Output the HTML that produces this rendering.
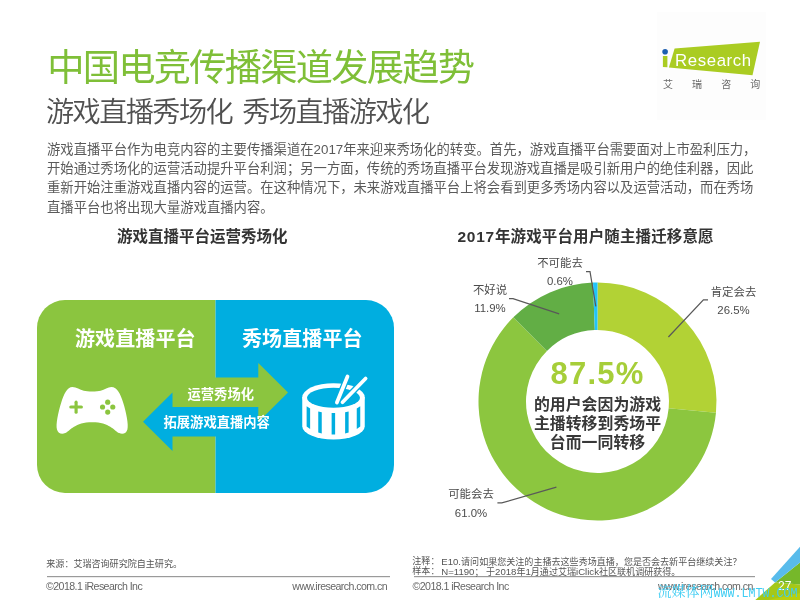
<!DOCTYPE html>
<html lang="zh-CN">
<head>
<meta charset="utf-8">
<title>中国电竞传播渠道发展趋势</title>
<style>
html,body{margin:0;padding:0;background:#fff;}
body{width:800px;height:600px;position:relative;overflow:hidden;
  font-family:"Liberation Sans","Noto Sans CJK SC",sans-serif;color:#555;}
.t{position:absolute;white-space:nowrap;line-height:1;margin:0;padding:0;}
#txt{position:absolute;left:0;top:0;width:800px;height:600px;will-change:transform;}
#gfx{position:absolute;left:0;top:0;width:800px;height:600px;}
.title{left:47.2px;top:50.4px;font-size:37.3px;font-weight:400;color:#7fbf38;letter-spacing:-1.8px;}
.sub{left:46px;top:98px;font-size:28.2px;font-weight:350;color:#505050;letter-spacing:-1.6px;word-spacing:4px;}
.body{left:47px;top:139.8px;font-size:13.33px;line-height:19.3px;color:#5a5a5a;font-weight:400;}
.h3{font-size:15.5px;font-weight:700;color:#333;}
.lab{font-size:11.4px;color:#4c4c4c;text-align:center;line-height:18.8px;}
.foot{font-size:9.05px;color:#555;}
.foot b{font-weight:400;font-size:9.6px;}
.copy{font-size:10.6px;color:#666;letter-spacing:-0.56px;}
</style>
</head>
<body>
<svg id="gfx" viewBox="0 0 800 600" width="800" height="600">
  <!-- logo -->
  <rect x="657" y="12" width="109" height="108" fill="#fdfdfd"/>
  <polygon points="674.6,48.4 760,41.8 752.5,75.2 668.9,67.4" fill="#aacc22"/>
  <polygon points="662.9,56.1 667.4,56.1 667.4,67.3 662.9,66.9" fill="#aacc22"/>
  <circle cx="665.1" cy="51.8" r="2.8" fill="#1d5fb0"/>

  <!-- left diagram -->
  <defs>
    <clipPath id="rr"><rect x="37" y="300" width="357" height="193" rx="28" ry="28"/></clipPath>
  </defs>
  <g clip-path="url(#rr)">
    <rect x="37" y="300" width="178.5" height="193" fill="#8bc53f"/>
    <rect x="215.5" y="300" width="178.5" height="193" fill="#00aee0"/>
  </g>
  <!-- green arrow -->
  <polygon points="215,377.5 258.3,377.5 258.3,363 288,392.5 258.3,422 258.3,407 215,407" fill="#8bc53f"/>
  <!-- blue arrow -->
  <polygon points="216,407 172.5,407 172.5,392.5 143,421.7 172.5,451 172.5,436.5 216,436.5" fill="#00aee0"/>

  <!-- gamepad -->
  <g transform="translate(50,380) scale(0.1125)">
    <path d="M200,62 C235,62 265,88 300,96 C330,104 420,104 450,96 C485,88 515,62 545,62 C598,62 628,128 650,200 C678,290 700,395 688,440 C680,472 648,488 615,472 C570,450 530,375 375,375 C220,375 180,450 135,472 C102,488 70,472 62,440 C50,395 72,290 100,200 C122,128 152,62 200,62 Z" fill="#fff"/>
    <g stroke="#8bc53f" stroke-width="28" stroke-linecap="round">
      <line x1="185" y1="240" x2="279" y2="240"/>
      <line x1="232" y1="197" x2="232" y2="286"/>
    </g>
    <g fill="#8bc53f">
      <circle cx="513" cy="197" r="23"/><circle cx="467" cy="240" r="23"/>
      <circle cx="558" cy="240" r="23"/><circle cx="513" cy="285" r="23"/>
    </g>
  </g>

  <!-- drum -->
  <g transform="translate(290,365) scale(0.125)">
    <path d="M98,258 L98,490 A250,105 0 0 0 598,490 L598,258 Z" fill="#fff"/>
    <ellipse cx="348" cy="258" rx="250" ry="112" fill="#fff"/>
    <ellipse cx="348" cy="262" rx="212" ry="80" fill="#00aee0"/>
    <g fill="#00aee0">
      <polygon points="133,330 161,348 161,512 133,492"/>
      <polygon points="226,372 254,378 254,548 226,540"/>
      <polygon points="333,384 361,384 361,556 333,556"/>
      <polygon points="441,378 469,372 469,540 441,548"/>
      <polygon points="534,348 562,330 562,492 534,512"/>
    </g>
    <g stroke="#00aee0" stroke-width="50" stroke-linecap="round">
      <line x1="375" y1="300" x2="460" y2="92"/>
      <line x1="420" y1="298" x2="605" y2="108"/>
    </g>
    <g stroke="#fff" stroke-width="30" stroke-linecap="round">
      <line x1="375" y1="300" x2="460" y2="92"/>
      <line x1="420" y1="298" x2="605" y2="108"/>
    </g>
  </g>

  <!-- donut -->
  <g id="donut">
    <path d="M597.50,282.50 A119,119 0 0 1 715.97,412.70 L668.68,408.23 A71.5,71.5 0 0 0 597.50,330.00 Z" fill="#b2d235"/>
    <path d="M715.97,412.70 A119,119 0 1 1 513.35,317.35 L546.94,350.94 A71.5,71.5 0 1 0 668.68,408.23 Z" fill="#8cc63f"/>
    <path d="M513.35,317.35 A119,119 0 0 1 593.01,282.58 L594.81,330.05 A71.5,71.5 0 0 0 546.94,350.94 Z" fill="#62ae45"/>
    <path d="M593.01,282.58 A119,119 0 0 1 597.50,282.50 L597.50,330.00 A71.5,71.5 0 0 0 594.81,330.05 Z" fill="#22c4f8"/>
  </g>

  <!-- leader lines -->
  <g fill="none" stroke="#595959" stroke-width="1.25">
    <polyline points="586,271.5 590,271.5 595.8,306.3"/>
    <polyline points="509,298.6 513,298.6 559.2,313.8"/>
    <polyline points="708,299.8 703.4,299.8 668.4,337"/>
    <polyline points="497.4,502.9 501.8,502.9 556.4,487.1"/>
  </g>

  <!-- footer lines -->
  <rect x="47" y="576" width="343" height="1.2" fill="#9a9a9a"/>
  <rect x="414" y="576" width="341" height="1.2" fill="#9a9a9a"/>

  <!-- corner -->
  <polygon points="755.3,600 775.1,582.6 800,584.5 800,600" fill="#a5c818"/>
  <polygon points="768,600 800,593 800,600" fill="#b9d00e"/>
  <polygon points="775.1,582.6 800,562.4 800,584.5" fill="#76b82a"/>
  <polygon points="771,578.9 800,546.8 800,562.4 775.1,582.6" fill="#58bbeb"/>
</svg>

<div id="txt">
<div class="t title">中国电竞传播渠道发展趋势</div>
<div class="t sub">游戏直播秀场化 秀场直播游戏化</div>
<div class="t body">游戏直播平台作为电竞内容的主要传播渠道在2017年来迎来秀场化的转变。首先，游戏直播平台需要面对上市盈利压力，<br>开始通过秀场化的运营活动提升平台利润；另一方面，传统的秀场直播平台发现游戏直播是吸引新用户的绝佳利器，因此<br>重新开始注重游戏直播内容的运营。在这种情况下，未来游戏直播平台上将会看到更多秀场内容以及运营活动，而在秀场<br>直播平台也将出现大量游戏直播内容。</div>

<div class="t" style="left:675px;top:53.3px;font-size:16.8px;color:#fff;letter-spacing:0.62px;">Research</div>
<div class="t" style="left:663px;top:79.8px;font-size:10px;color:#6a6a6a;letter-spacing:19.1px;">艾瑞咨询</div>

<div class="t h3" style="left:117px;top:228.5px;">游戏直播平台运营秀场化</div>
<div class="t h3" style="left:457.5px;top:228.5px;letter-spacing:0.12px;"><span style="letter-spacing:0.75px;">2017</span>年游戏平台用户随主播迁移意愿</div>

<div class="t" style="left:75px;top:329px;font-size:20px;font-weight:700;color:#fff;letter-spacing:0.1px;">游戏直播平台</div>
<div class="t" style="left:242px;top:329px;font-size:20px;font-weight:700;color:#fff;letter-spacing:0.1px;">秀场直播平台</div>
<div class="t" style="left:187.5px;top:387.5px;font-size:13.3px;font-weight:700;color:#fff;">运营秀场化</div>
<div class="t" style="left:163.5px;top:415.5px;font-size:13.3px;font-weight:700;color:#fff;">拓展游戏直播内容</div>

<div class="t lab" style="left:520px;width:80px;top:253.5px;">不可能去<br>0.6%</div>
<div class="t lab" style="left:450px;width:80px;top:280.5px;">不好说<br>11.9%</div>
<div class="t lab" style="left:693.5px;width:80px;top:282.5px;">肯定会去<br>26.5%</div>
<div class="t lab" style="left:431px;width:80px;top:485px;">可能会去<br>61.0%</div>

<div class="t" style="left:537px;width:121px;top:357.5px;text-align:center;font-size:31px;font-weight:700;color:#a6ce39;letter-spacing:1.2px;">87.5%</div>
<div class="t" style="left:527px;width:141px;top:395.3px;text-align:center;font-size:15.9px;line-height:19.1px;font-weight:700;color:#383838;">的用户会因为游戏<br>主播转移到秀场平<br>台而一同转移</div>

<div class="t foot" style="left:46.3px;top:560px;">来源：艾瑞咨询研究院自主研究。</div>
<div class="t copy" style="left:46px;top:580.6px;">©2018.1 iResearch Inc</div>
<div class="t copy" style="left:292.3px;top:580.6px;">www.iresearch.com.cn</div>

<div class="t foot" style="left:412.3px;top:557.2px;">注释：&nbsp;<span style="position:absolute;left:29px;"><b>E10.</b>请问如果您关注的主播去这些秀场直播，您是否会去新平台继续关注？</span></div>
<div class="t foot" style="left:412.3px;top:566.8px;">样本：&nbsp;<span style="position:absolute;left:29px;"><b>N=1190</b>； 于<b>2018</b>年<b>1</b>月通过艾瑞<b>iClick</b>社区联机调研获得。</span></div>
<div class="t copy" style="left:412.5px;top:580.6px;">©2018.1 iResearch Inc</div>
<div class="t copy" style="left:658px;top:580.6px;">www.iresearch.com.cn</div>

<div class="t" style="left:778px;top:579.5px;font-size:12px;color:#fff;">27</div>

<div class="t" style="left:657.5px;top:585.3px;font-size:14px;color:#3fcdf3;font-family:'Liberation Mono','Noto Serif CJK SC',serif;font-weight:400;">流媒体网<span style="display:inline-block;font-size:11.67px;font-weight:400;transform:scaleY(1.1);transform-origin:0 82%;position:relative;top:0.5px;">WWW.LMTW.COM</span></div>
</div>

</body>
</html>
